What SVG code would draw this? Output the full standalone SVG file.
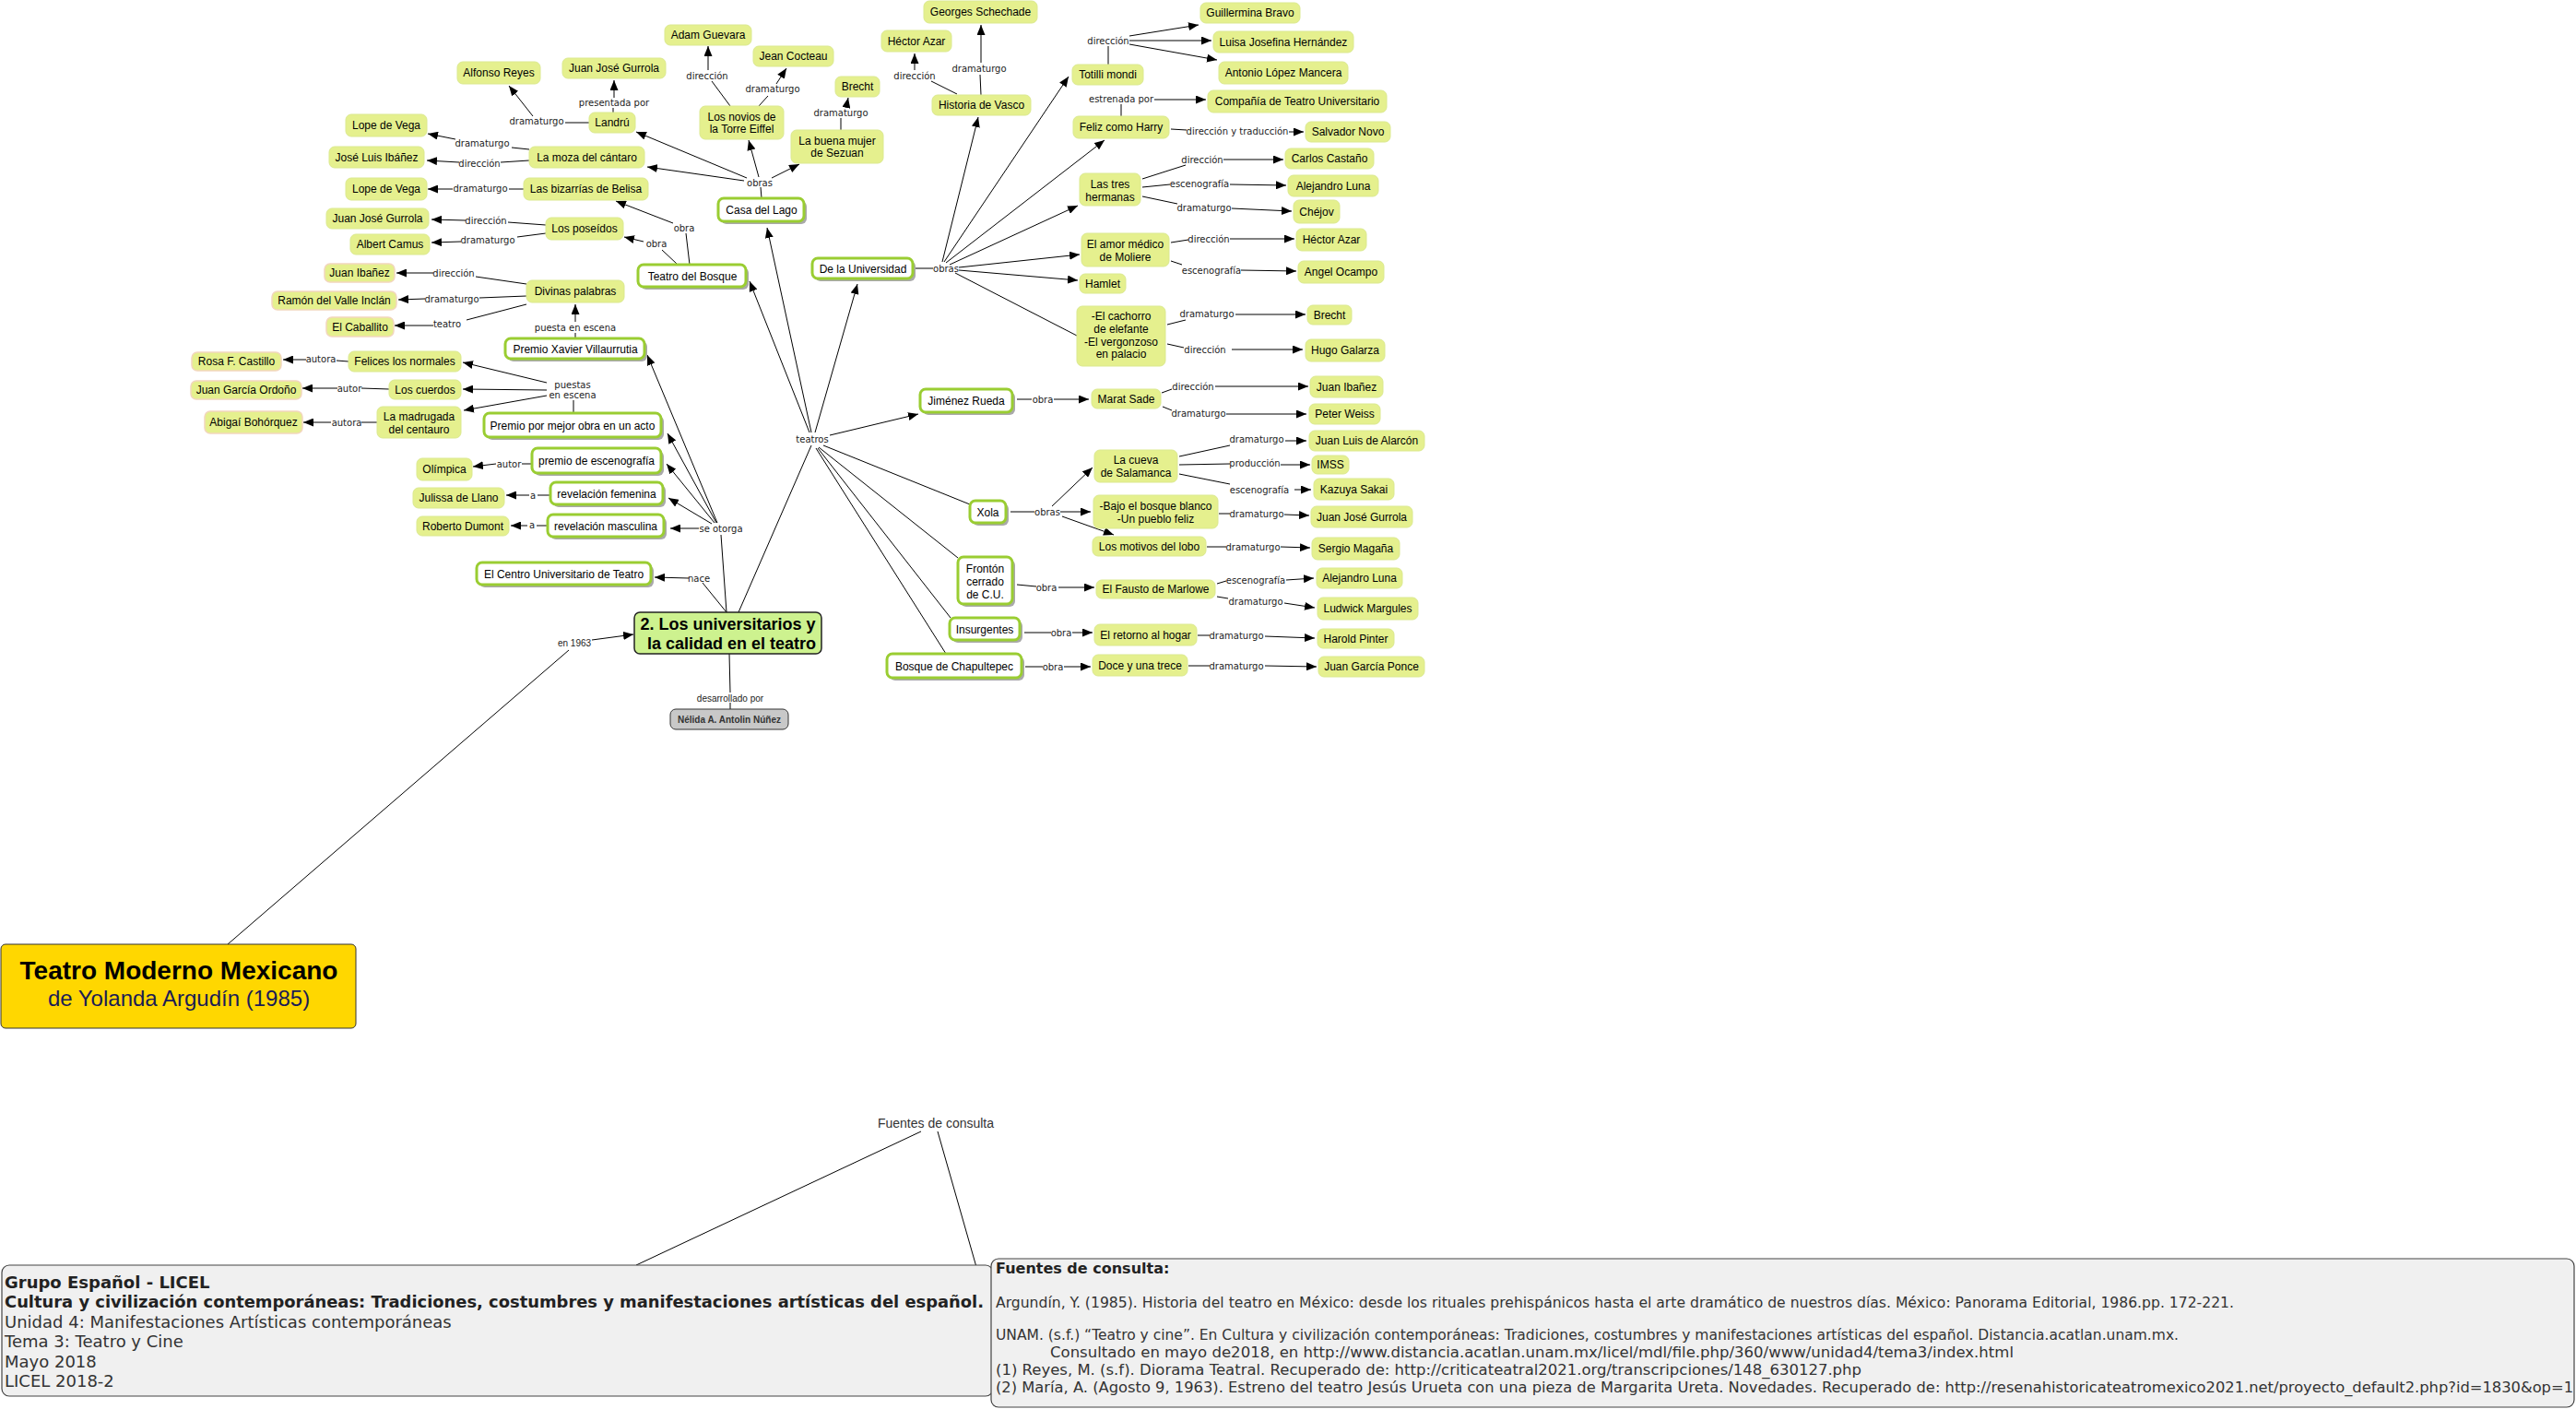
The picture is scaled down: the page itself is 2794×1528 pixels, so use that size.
<svg xmlns="http://www.w3.org/2000/svg" width="2794" height="1528" viewBox="0 0 2794 1528">
<defs>
<marker id="ah" markerWidth="11" markerHeight="9" refX="11" refY="4.5" orient="auto" markerUnits="userSpaceOnUse"><path d="M0,0L11,4.5L0,9z" fill="#000"/></marker>
<style>
.y rect{fill:#e5f08e;stroke:#dbe98f;stroke-width:1}
.yp rect{fill:#e5f08e;stroke:#f2d6bd;stroke-width:1.5}
.bx .s{fill:#a9a9a9}
.bx .f{fill:#fff;stroke:#9acd32;stroke-width:3}
text{font-family:"Liberation Sans",Arial,sans-serif}
.t{font-size:12px;fill:#000;text-anchor:middle}
.l{font-family:"DejaVu Sans",Verdana,sans-serif;font-size:10px;fill:#222;text-anchor:middle}
.la{font-size:10px;fill:#222;text-anchor:middle}
#connectors line{stroke:#000;stroke-width:1}
.ar{marker-end:url(#ah)}
.bt{font-family:"DejaVu Sans",Verdana,sans-serif;font-size:18px;fill:#333}
.bf{font-family:"DejaVu Sans",Verdana,sans-serif;font-size:16px;fill:#333}
.bold{font-weight:bold;fill:#222}
</style>
</defs>
<rect width="2794" height="1528" fill="#fff"/>
<g id="connectors">
<line x1="639" y1="133" x2="613" y2="133"/><line class="ar" x1="578" y1="126" x2="552" y2="93"/>
<line x1="665" y1="122" x2="665" y2="117"/><line class="ar" x1="666" y1="106" x2="666" y2="87"/>
<line x1="574" y1="162" x2="555" y2="160"/><line class="ar" x1="494" y1="151" x2="464" y2="145"/>
<line x1="574" y1="174" x2="543" y2="176"/><line class="ar" x1="498" y1="176" x2="463" y2="174"/>
<line x1="568" y1="205" x2="552" y2="205"/><line class="ar" x1="491" y1="205" x2="464" y2="205"/>
<line x1="592" y1="244" x2="551" y2="241"/><line class="ar" x1="505" y1="239" x2="468" y2="238"/>
<line x1="592" y1="253" x2="561" y2="257"/><line class="ar" x1="500" y1="262" x2="468" y2="263"/>
<line x1="571" y1="308" x2="516" y2="300"/><line class="ar" x1="470" y1="296" x2="430" y2="296"/>
<line x1="571" y1="321" x2="520" y2="323"/><line class="ar" x1="461" y1="324" x2="432" y2="325"/>
<line x1="571" y1="330" x2="506" y2="347"/><line class="ar" x1="470" y1="353" x2="428" y2="353"/>
<line x1="624" y1="367" x2="624" y2="361"/><line class="ar" x1="624" y1="349" x2="624" y2="330"/>
<line x1="378" y1="392" x2="365" y2="391"/><line class="ar" x1="332" y1="390" x2="307" y2="390"/>
<line x1="422" y1="422" x2="392" y2="421"/><line class="ar" x1="366" y1="421" x2="328" y2="421"/>
<line x1="409" y1="458" x2="392" y2="458"/><line class="ar" x1="359" y1="458" x2="329" y2="458"/>
<line x1="622" y1="448" x2="622" y2="434"/>
<line class="ar" x1="593" y1="415" x2="502" y2="393"/><line class="ar" x1="593" y1="423" x2="502" y2="422"/><line class="ar" x1="593" y1="429" x2="503" y2="445"/>
<line x1="577" y1="503" x2="566" y2="503"/><line class="ar" x1="538" y1="503" x2="513" y2="506"/>
<line x1="597" y1="537" x2="583" y2="537"/><line class="ar" x1="574" y1="537" x2="549" y2="537"/>
<line x1="594" y1="570" x2="582" y2="570"/><line class="ar" x1="572" y1="570" x2="554" y2="570"/>
<line x1="788" y1="664" x2="782" y2="580"/>
<line class="ar" x1="778" y1="567" x2="702" y2="385"/><line class="ar" x1="777" y1="567" x2="724" y2="470"/><line class="ar" x1="775" y1="567" x2="723" y2="503"/><line class="ar" x1="772" y1="568" x2="725" y2="540"/><line class="ar" x1="758" y1="573" x2="727" y2="573"/>
<line x1="788" y1="664" x2="762" y2="632"/><line class="ar" x1="747" y1="627" x2="710" y2="626"/>
<line x1="801" y1="664" x2="880" y2="483"/>
<line class="ar" x1="878" y1="469" x2="813" y2="305"/><line class="ar" x1="880" y1="469" x2="832" y2="247"/><line class="ar" x1="884" y1="469" x2="930" y2="308"/><line class="ar" x1="900" y1="472" x2="996" y2="449"/>
<line x1="893" y1="483" x2="1052" y2="547"/><line x1="888" y1="485" x2="1039" y2="605"/><line x1="887" y1="486" x2="1031" y2="670"/><line x1="885" y1="486" x2="1026" y2="709"/>
<line x1="247" y1="1024" x2="617" y2="705"/><line class="ar" x1="642" y1="694" x2="687" y2="688"/>
<line x1="791" y1="709" x2="792" y2="751"/><line x1="792" y1="762" x2="792" y2="769"/>
<line x1="826" y1="215" x2="825" y2="203"/>
<line class="ar" x1="810" y1="193" x2="690" y2="143"/><line class="ar" x1="807" y1="196" x2="702" y2="181"/><line class="ar" x1="823" y1="192" x2="812" y2="152"/><line class="ar" x1="837" y1="193" x2="867" y2="178"/>
<line x1="792" y1="115" x2="772" y2="88"/><line class="ar" x1="768" y1="76" x2="768" y2="50"/>
<line x1="823" y1="115" x2="833" y2="104"/><line class="ar" x1="842" y1="91" x2="853" y2="74"/>
<line x1="912" y1="141" x2="912" y2="128"/><line class="ar" x1="918" y1="116" x2="920" y2="106"/>
<line x1="748" y1="287" x2="744" y2="253"/><line class="ar" x1="730" y1="242" x2="668" y2="218"/>
<line x1="735" y1="287" x2="718" y2="271"/><line class="ar" x1="698" y1="262" x2="677" y2="257"/>
<line x1="993" y1="291" x2="1012" y2="291"/>
<line class="ar" x1="1022" y1="284" x2="1061" y2="127"/><line class="ar" x1="1024" y1="284" x2="1159" y2="83"/><line class="ar" x1="1026" y1="285" x2="1198" y2="152"/><line class="ar" x1="1030" y1="287" x2="1169" y2="223"/><line class="ar" x1="1040" y1="290" x2="1171" y2="276"/><line class="ar" x1="1040" y1="293" x2="1169" y2="304"/><line x1="1036" y1="296" x2="1168" y2="364"/>
<line x1="1038" y1="102" x2="1010" y2="88"/><line class="ar" x1="992" y1="76" x2="992" y2="58"/>
<line x1="1064" y1="103" x2="1063" y2="81"/><line class="ar" x1="1064" y1="68" x2="1064" y2="27"/>
<line x1="1202" y1="70" x2="1202" y2="50"/>
<line class="ar" x1="1225" y1="39" x2="1300" y2="27"/><line class="ar" x1="1225" y1="44" x2="1314" y2="44"/><line class="ar" x1="1225" y1="48" x2="1320" y2="65"/>
<line x1="1216" y1="126" x2="1216" y2="113"/><line class="ar" x1="1252" y1="108" x2="1308" y2="108"/>
<line x1="1270" y1="140" x2="1287" y2="141"/><line class="ar" x1="1398" y1="143" x2="1414" y2="143"/>
<line x1="1239" y1="194" x2="1286" y2="179"/><line class="ar" x1="1327" y1="173" x2="1392" y2="173"/>
<line x1="1239" y1="203" x2="1269" y2="200"/><line class="ar" x1="1334" y1="200" x2="1395" y2="201"/>
<line x1="1239" y1="213" x2="1277" y2="221"/><line class="ar" x1="1336" y1="226" x2="1401" y2="229"/>
<line x1="1270" y1="263" x2="1289" y2="260"/><line class="ar" x1="1334" y1="259" x2="1404" y2="259"/>
<line x1="1270" y1="283" x2="1282" y2="287"/><line class="ar" x1="1346" y1="293" x2="1406" y2="294"/>
<line x1="1266" y1="352" x2="1286" y2="347"/><line class="ar" x1="1340" y1="341" x2="1416" y2="341"/>
<line x1="1266" y1="373" x2="1284" y2="377"/><line class="ar" x1="1336" y1="379" x2="1413" y2="379"/>
<line x1="1103" y1="433" x2="1119" y2="433"/><line class="ar" x1="1143" y1="433" x2="1181" y2="433"/>
<line x1="1260" y1="426" x2="1271" y2="422"/><line class="ar" x1="1318" y1="419" x2="1419" y2="419"/>
<line x1="1261" y1="441" x2="1271" y2="445"/><line class="ar" x1="1330" y1="449" x2="1417" y2="449"/>
<line x1="1096" y1="555" x2="1122" y2="555"/>
<line class="ar" x1="1141" y1="549" x2="1185" y2="507"/><line class="ar" x1="1150" y1="555" x2="1183" y2="555"/><line class="ar" x1="1152" y1="560" x2="1208" y2="580"/>
<line x1="1279" y1="495" x2="1334" y2="483"/><line class="ar" x1="1394" y1="478" x2="1417" y2="478"/>
<line x1="1279" y1="504" x2="1334" y2="503"/><line class="ar" x1="1389" y1="504" x2="1421" y2="504"/>
<line x1="1279" y1="514" x2="1334" y2="525"/><line class="ar" x1="1404" y1="531" x2="1422" y2="531"/>
<line x1="1322" y1="557" x2="1334" y2="557"/><line class="ar" x1="1393" y1="558" x2="1420" y2="559"/>
<line x1="1309" y1="593" x2="1330" y2="593"/><line class="ar" x1="1389" y1="593" x2="1421" y2="594"/>
<line x1="1103" y1="634" x2="1124" y2="636"/><line class="ar" x1="1148" y1="637" x2="1187" y2="637"/>
<line x1="1320" y1="633" x2="1330" y2="630"/><line class="ar" x1="1395" y1="629" x2="1425" y2="627"/>
<line x1="1320" y1="647" x2="1332" y2="649"/><line class="ar" x1="1393" y1="654" x2="1426" y2="659"/>
<line x1="1111" y1="686" x2="1140" y2="686"/><line class="ar" x1="1163" y1="686" x2="1185" y2="686"/>
<line x1="1299" y1="689" x2="1312" y2="689"/><line class="ar" x1="1372" y1="690" x2="1426" y2="692"/>
<line x1="1112" y1="723" x2="1131" y2="723"/><line class="ar" x1="1154" y1="723" x2="1183" y2="723"/>
<line x1="1289" y1="722" x2="1312" y2="722"/><line class="ar" x1="1372" y1="722" x2="1428" y2="723"/>
<line x1="999" y1="1227" x2="690" y2="1372"/><line x1="1017" y1="1227" x2="1075" y2="1430"/>
<text class="l" x="582" y="134.5">dramaturgo</text>
<text class="l" x="666" y="114.5">presentada por</text>
<text class="l" x="523" y="158.5">dramaturgo</text>
<text class="l" x="520" y="180.5">dirección</text>
<text class="l" x="521" y="207.5">dramaturgo</text>
<text class="l" x="527" y="242.5">dirección</text>
<text class="l" x="529" y="263.5">dramaturgo</text>
<text class="l" x="492" y="299.5">dirección</text>
<text class="l" x="490" y="327.5">dramaturgo</text>
<text class="l" x="485" y="354.5">teatro</text>
<text class="l" x="624" y="358.5">puesta en escena</text>
<text class="l" x="348" y="392.5">autora</text>
<text class="l" x="379" y="424.5">autor</text>
<text class="l" x="376" y="461.5">autora</text>
<text class="l" x="621" y="420.5">puestas</text>
<text class="l" x="621" y="431.5">en escena</text>
<text class="l" x="552" y="506.5">autor</text>
<text class="l" x="578" y="540.5">a</text>
<text class="l" x="577" y="572.5">a</text>
<text class="l" x="782" y="576.5">se otorga</text>
<text class="l" x="758" y="630.5">nace</text>
<text class="l" x="881" y="479.5">teatros</text>
<text class="la" x="623" y="700.5">en 1963</text>
<text class="la" x="792" y="760.5">desarrollado por</text>
<text class="l" x="824" y="201.5">obras</text>
<text class="l" x="767" y="85.5">dirección</text>
<text class="l" x="838" y="99.5">dramaturgo</text>
<text class="l" x="912" y="125.5">dramaturgo</text>
<text class="l" x="742" y="250.5">obra</text>
<text class="l" x="712" y="267.5">obra</text>
<text class="l" x="1026" y="294.5">obras</text>
<text class="l" x="992" y="85.5">dirección</text>
<text class="l" x="1062" y="77.5">dramaturgo</text>
<text class="l" x="1202" y="47.5">dirección</text>
<text class="l" x="1216" y="110.5">estrenada por</text>
<text class="l" x="1342" y="145.5">dirección y traducción</text>
<text class="l" x="1304" y="176.5">dirección</text>
<text class="l" x="1301" y="202.5">escenografía</text>
<text class="l" x="1306" y="228.5">dramaturgo</text>
<text class="l" x="1311" y="262.5">dirección</text>
<text class="l" x="1314" y="296.5">escenografía</text>
<text class="l" x="1309" y="343.5">dramaturgo</text>
<text class="l" x="1307" y="382.5">dirección</text>
<text class="l" x="1131" y="436.5">obra</text>
<text class="l" x="1294" y="422.5">dirección</text>
<text class="l" x="1300" y="451.5">dramaturgo</text>
<text class="l" x="1136" y="558.5">obras</text>
<text class="l" x="1363" y="479.5">dramaturgo</text>
<text class="l" x="1361" y="505.5">producción</text>
<text class="l" x="1366" y="534.5">escenografía</text>
<text class="l" x="1363" y="560.5">dramaturgo</text>
<text class="l" x="1359" y="596.5">dramaturgo</text>
<text class="l" x="1135" y="640.5">obra</text>
<text class="l" x="1362" y="632.5">escenografía</text>
<text class="l" x="1362" y="655.5">dramaturgo</text>
<text class="l" x="1151" y="689.5">obra</text>
<text class="l" x="1341" y="692.5">dramaturgo</text>
<text class="l" x="1142" y="726.5">obra</text>
<text class="l" x="1341" y="725.5">dramaturgo</text>
<text x="1015" y="1223" font-size="14" fill="#333" text-anchor="middle">Fuentes de consulta</text>
</g>
<g id="n1" class="y"><rect x="496" y="67" width="90" height="24" rx="6"/><text class="t" x="541" y="83">Alfonso Reyes</text></g>
<g id="n2" class="y"><rect x="610" y="63" width="112" height="22" rx="6"/><text class="t" x="666" y="78">Juan José Gurrola</text></g>
<g id="n3" class="y"><rect x="639" y="122" width="50" height="22" rx="6"/><text class="t" x="664" y="137">Landrú</text></g>
<g id="n4" class="y"><rect x="375" y="124" width="88" height="24" rx="6"/><text class="t" x="419" y="140">Lope de Vega</text></g>
<g id="n5" class="y"><rect x="574" y="159" width="125" height="23" rx="6"/><text class="t" x="636.5" y="174.5">La moza del cántaro</text></g>
<g id="n6" class="y"><rect x="357" y="159" width="103" height="23" rx="6"/><text class="t" x="408.5" y="174.5">José Luis Ibáñez</text></g>
<g id="n7" class="y"><rect x="375" y="193" width="88" height="24" rx="6"/><text class="t" x="419" y="209">Lope de Vega</text></g>
<g id="n8" class="y"><rect x="568" y="193" width="135" height="24" rx="6"/><text class="t" x="635.5" y="209">Las bizarrías de Belisa</text></g>
<g id="n9" class="y"><rect x="354" y="226" width="111" height="22" rx="6"/><text class="t" x="409.5" y="241">Juan José Gurrola</text></g>
<g id="n10" class="y"><rect x="592" y="236" width="84" height="24" rx="6"/><text class="t" x="634" y="252">Los poseídos</text></g>
<g id="n11" class="y"><rect x="380" y="254" width="86" height="22" rx="6"/><text class="t" x="423" y="269">Albert Camus</text></g>
<g id="n12" class="yp"><rect x="352" y="286" width="76" height="20" rx="6"/><text class="t" x="390" y="300">Juan Ibañez</text></g>
<g id="n13" class="y"><rect x="571" y="304" width="106" height="24" rx="6"/><text class="t" x="624" y="320">Divinas palabras</text></g>
<g id="n14" class="yp"><rect x="295" y="316" width="135" height="20" rx="6"/><text class="t" x="362.5" y="330">Ramón del Valle Inclán</text></g>
<g id="n15" class="yp"><rect x="354" y="344" width="73" height="21" rx="6"/><text class="t" x="390.5" y="358.5">El Caballito</text></g>
<g id="n16" class="yp"><rect x="208" y="382" width="97" height="20" rx="6"/><text class="t" x="256.5" y="396">Rosa F. Castillo</text></g>
<g id="n17" class="y"><rect x="378" y="381" width="122" height="22" rx="6"/><text class="t" x="439" y="396">Felices los normales</text></g>
<g id="n18" class="yp"><rect x="207" y="413" width="120" height="20" rx="6"/><text class="t" x="267" y="427">Juan García Ordoño</text></g>
<g id="n19" class="y"><rect x="422" y="412" width="78" height="21" rx="6"/><text class="t" x="461" y="426.5">Los cuerdos</text></g>
<g id="n20" class="yp"><rect x="222" y="446" width="106" height="24" rx="6"/><text class="t" x="275" y="462">Abigaí Bohórquez</text></g>
<g id="n21" class="y"><rect x="409" y="441" width="91" height="34" rx="6"/><text class="t" x="454.5" y="455.5">La madrugada</text><text class="t" x="454.5" y="469.5">del centauro</text></g>
<g id="n22" class="y"><rect x="452" y="497" width="60" height="24" rx="6"/><text class="t" x="482" y="513">Olímpica</text></g>
<g id="n23" class="y"><rect x="448" y="529" width="99" height="22" rx="6"/><text class="t" x="497.5" y="544">Julissa de Llano</text></g>
<g id="n24" class="y"><rect x="452" y="560" width="100" height="21" rx="6"/><text class="t" x="502" y="574.5">Roberto Dumont</text></g>
<g id="n25" class="y"><rect x="721" y="27" width="94" height="22" rx="6"/><text class="t" x="768" y="42">Adam Guevara</text></g>
<g id="n26" class="y"><rect x="817" y="50" width="87" height="22" rx="6"/><text class="t" x="860.5" y="65">Jean Cocteau</text></g>
<g id="n27" class="y"><rect x="759" y="115" width="91" height="36" rx="6"/><text class="t" x="804.5" y="131">Los novios de</text><text class="t" x="804.5" y="144">la Torre Eiffel</text></g>
<g id="n28" class="y"><rect x="906" y="83" width="48" height="22" rx="6"/><text class="t" x="930" y="98">Brecht</text></g>
<g id="n29" class="y"><rect x="858" y="141" width="100" height="36" rx="6"/><text class="t" x="908" y="157">La buena mujer</text><text class="t" x="908" y="170">de Sezuan</text></g>
<g id="n30" class="y"><rect x="956" y="33" width="76" height="23" rx="6"/><text class="t" x="994" y="48.5">Héctor Azar</text></g>
<g id="n31" class="y"><rect x="1002" y="1" width="123" height="24" rx="6"/><text class="t" x="1063.5" y="17">Georges Schechade</text></g>
<g id="n32" class="y"><rect x="1011" y="103" width="107" height="22" rx="6"/><text class="t" x="1064.5" y="118">Historia de Vasco</text></g>
<g id="n33" class="y"><rect x="1302" y="3" width="108" height="22" rx="6"/><text class="t" x="1356" y="18">Guillermina Bravo</text></g>
<g id="n34" class="y"><rect x="1316" y="34" width="152" height="23" rx="6"/><text class="t" x="1392" y="49.5">Luisa Josefina Hernández</text></g>
<g id="n35" class="y"><rect x="1322" y="67" width="140" height="24" rx="6"/><text class="t" x="1392" y="83">Antonio López Mancera</text></g>
<g id="n36" class="y"><rect x="1163" y="70" width="77" height="22" rx="6"/><text class="t" x="1201.5" y="85">Totilli mondi</text></g>
<g id="n37" class="y"><rect x="1310" y="98" width="194" height="24" rx="6"/><text class="t" x="1407" y="114">Compañía de Teatro Universitario</text></g>
<g id="n38" class="y"><rect x="1164" y="126" width="104" height="24" rx="6"/><text class="t" x="1216" y="142">Feliz como Harry</text></g>
<g id="n39" class="y"><rect x="1416" y="132" width="92" height="22" rx="6"/><text class="t" x="1462" y="147">Salvador Novo</text></g>
<g id="n40" class="y"><rect x="1394" y="161" width="96" height="22" rx="6"/><text class="t" x="1442" y="176">Carlos Castaño</text></g>
<g id="n41" class="y"><rect x="1171" y="188" width="66" height="35" rx="6"/><text class="t" x="1204" y="203.5">Las tres</text><text class="t" x="1204" y="217.5">hermanas</text></g>
<g id="n42" class="y"><rect x="1397" y="190" width="98" height="23" rx="6"/><text class="t" x="1446" y="205.5">Alejandro Luna</text></g>
<g id="n43" class="y"><rect x="1403" y="217" width="50" height="25" rx="6"/><text class="t" x="1428" y="233.5">Chéjov</text></g>
<g id="n44" class="y"><rect x="1173" y="253" width="95" height="36" rx="6"/><text class="t" x="1220.5" y="268.5">El amor médico</text><text class="t" x="1220.5" y="282.5">de Moliere</text></g>
<g id="n45" class="y"><rect x="1406" y="248" width="76" height="24" rx="6"/><text class="t" x="1444" y="264">Héctor Azar</text></g>
<g id="n46" class="y"><rect x="1408" y="283" width="93" height="24" rx="6"/><text class="t" x="1454.5" y="299">Angel Ocampo</text></g>
<g id="n47" class="y"><rect x="1171" y="297" width="50" height="21" rx="6"/><text class="t" x="1196" y="311.5">Hamlet</text></g>
<g id="n48" class="y"><rect x="1168" y="332" width="96" height="65" rx="6"/><text class="t" x="1216" y="347">-El cachorro</text><text class="t" x="1216" y="361">de elefante</text><text class="t" x="1216" y="375">-El vergonzoso</text><text class="t" x="1216" y="388">en palacio</text></g>
<g id="n49" class="y"><rect x="1418" y="331" width="48" height="21" rx="6"/><text class="t" x="1442" y="345.5">Brecht</text></g>
<g id="n50" class="y"><rect x="1416" y="368" width="86" height="24" rx="6"/><text class="t" x="1459" y="384">Hugo Galarza</text></g>
<g id="n51" class="y"><rect x="1184" y="422" width="75" height="21" rx="6"/><text class="t" x="1221.5" y="436.5">Marat Sade</text></g>
<g id="n52" class="y"><rect x="1421" y="408" width="79" height="23" rx="6"/><text class="t" x="1460.5" y="423.5">Juan Ibañez</text></g>
<g id="n53" class="y"><rect x="1420" y="438" width="77" height="22" rx="6"/><text class="t" x="1458.5" y="453">Peter Weiss</text></g>
<g id="n54" class="y"><rect x="1187" y="488" width="90" height="35" rx="6"/><text class="t" x="1232" y="503">La cueva</text><text class="t" x="1232" y="516.5">de Salamanca</text></g>
<g id="n55" class="y"><rect x="1420" y="467" width="125" height="22" rx="6"/><text class="t" x="1482.5" y="482">Juan Luis de Alarcón</text></g>
<g id="n56" class="y"><rect x="1423" y="494" width="40" height="20" rx="6"/><text class="t" x="1443" y="508">IMSS</text></g>
<g id="n57" class="y"><rect x="1425" y="519" width="87" height="23" rx="6"/><text class="t" x="1468.5" y="534.5">Kazuya Sakai</text></g>
<g id="n58" class="y"><rect x="1186" y="537" width="135" height="36" rx="6"/><text class="t" x="1253.5" y="553">-Bajo el bosque blanco</text><text class="t" x="1253.5" y="567">-Un pueblo feliz</text></g>
<g id="n59" class="y"><rect x="1422" y="549" width="110" height="23" rx="6"/><text class="t" x="1477" y="564.5">Juan José Gurrola</text></g>
<g id="n60" class="y"><rect x="1185" y="582" width="123" height="21" rx="6"/><text class="t" x="1246.5" y="596.5">Los motivos del lobo</text></g>
<g id="n61" class="y"><rect x="1423" y="583" width="95" height="24" rx="6"/><text class="t" x="1470.5" y="599">Sergio Magaña</text></g>
<g id="n62" class="y"><rect x="1189" y="629" width="129" height="20" rx="6"/><text class="t" x="1253.5" y="643">El Fausto de Marlowe</text></g>
<g id="n63" class="y"><rect x="1428" y="616" width="93" height="22" rx="6"/><text class="t" x="1474.5" y="631">Alejandro Luna</text></g>
<g id="n64" class="y"><rect x="1429" y="648" width="109" height="24" rx="6"/><text class="t" x="1483.5" y="664">Ludwick Margules</text></g>
<g id="n65" class="y"><rect x="1187" y="677" width="111" height="23" rx="6"/><text class="t" x="1242.5" y="692.5">El retorno al hogar</text></g>
<g id="n66" class="y"><rect x="1429" y="682" width="83" height="21" rx="6"/><text class="t" x="1470.5" y="696.5">Harold Pinter</text></g>
<g id="n67" class="y"><rect x="1185" y="710" width="103" height="23" rx="6"/><text class="t" x="1236.5" y="725.5">Doce y una trece</text></g>
<g id="n68" class="y"><rect x="1430" y="712" width="115" height="22" rx="6"/><text class="t" x="1487.5" y="727">Juan García Ponce</text></g>
<g id="b1" class="bx"><rect class="s" x="695" y="290" width="117" height="24" rx="6"/><rect class="f" x="692" y="287" width="117" height="24" rx="6"/><text class="t" x="751" y="304">Teatro del Bosque</text></g>
<g id="b2" class="bx"><rect class="s" x="782" y="218" width="93" height="25" rx="6"/><rect class="f" x="779" y="215" width="93" height="25" rx="6"/><text class="t" x="826" y="232">Casa del Lago</text></g>
<g id="b3" class="bx"><rect class="s" x="884" y="283" width="109" height="22" rx="6"/><rect class="f" x="881" y="280" width="109" height="22" rx="6"/><text class="t" x="936" y="295.5">De la Universidad</text></g>
<g id="b4" class="bx"><rect class="s" x="551" y="370" width="151" height="22" rx="6"/><rect class="f" x="548" y="367" width="151" height="22" rx="6"/><text class="t" x="624" y="382.5">Premio Xavier Villaurrutia</text></g>
<g id="b5" class="bx"><rect class="s" x="528" y="451" width="192" height="26" rx="6"/><rect class="f" x="525" y="448" width="192" height="26" rx="6"/><text class="t" x="621" y="465.5">Premio por mejor obra en un acto</text></g>
<g id="b6" class="bx"><rect class="s" x="580" y="489" width="140" height="27" rx="6"/><rect class="f" x="577" y="486" width="140" height="27" rx="6"/><text class="t" x="647" y="503.5">premio de escenografía</text></g>
<g id="b7" class="bx"><rect class="s" x="600" y="526" width="122" height="24" rx="6"/><rect class="f" x="597" y="523" width="122" height="24" rx="6"/><text class="t" x="658" y="539.5">revelación femenina</text></g>
<g id="b8" class="bx"><rect class="s" x="597" y="561" width="126" height="24" rx="6"/><rect class="f" x="594" y="558" width="126" height="24" rx="6"/><text class="t" x="657" y="574.5">revelación masculina</text></g>
<g id="b9" class="bx"><rect class="s" x="520" y="613" width="189" height="24" rx="6"/><rect class="f" x="517" y="610" width="189" height="24" rx="6"/><text class="t" x="611.5" y="626.5">El Centro Universitario de Teatro</text></g>
<g id="b10" class="bx"><rect class="s" x="1001" y="425" width="100" height="25" rx="6"/><rect class="f" x="998" y="422" width="100" height="25" rx="6"/><text class="t" x="1048" y="439">Jiménez Rueda</text></g>
<g id="b11" class="bx"><rect class="s" x="1055" y="546" width="39" height="24" rx="6"/><rect class="f" x="1052" y="543" width="39" height="24" rx="6"/><text class="t" x="1071.5" y="559.5">Xola</text></g>
<g id="b12" class="bx"><rect class="s" x="1042" y="607" width="59" height="51" rx="6"/><rect class="f" x="1039" y="604" width="59" height="51" rx="6"/><text class="t" x="1068.5" y="621">Frontón</text><text class="t" x="1068.5" y="635">cerrado</text><text class="t" x="1068.5" y="649">de C.U.</text></g>
<g id="b13" class="bx"><rect class="s" x="1033" y="673" width="76" height="24" rx="6"/><rect class="f" x="1030" y="670" width="76" height="24" rx="6"/><text class="t" x="1068" y="686.5">Insurgentes</text></g>
<g id="b14" class="bx"><rect class="s" x="965" y="712" width="146" height="26" rx="6"/><rect class="f" x="962" y="709" width="146" height="26" rx="6"/><text class="t" x="1035" y="726.5">Bosque de Chapultepec</text></g>
<g id="main"><rect x="688" y="664" width="203" height="45" rx="6" fill="#cdf28f" stroke="#222" stroke-width="1.5"/><text x="789.5" y="683" font-size="18" font-weight="bold" text-anchor="middle" fill="#000">2. Los universitarios y</text><text x="793.5" y="704" font-size="18" font-weight="bold" text-anchor="middle" fill="#000">la calidad en el teatro</text></g>
<g id="author"><rect x="727" y="769" width="128" height="22" rx="6" fill="#c8c8c8" stroke="#333" stroke-width="1"/><text x="791" y="784" font-size="10" font-weight="bold" text-anchor="middle" fill="#333">Nélida A. Antolin Núñez</text></g>
<g id="title"><rect x="1" y="1024" width="385" height="91" rx="5" fill="#ffd700" stroke="#333" stroke-width="1"/><text x="194" y="1062" font-size="28" font-weight="bold" text-anchor="middle" fill="#000">Teatro Moderno Mexicano</text><text x="194" y="1091" font-size="24" text-anchor="middle" fill="#1b1b55">de Yolanda Argudín (1985)</text></g>
<g id="grupo"><rect x="2" y="1372" width="1075" height="142" rx="8" fill="#f0f0f0" stroke="#444" stroke-width="1.2"/>
<text class="bt bold" x="5" y="1397">Grupo Español - LICEL</text>
<text class="bt bold" x="5" y="1418" textLength="1062" lengthAdjust="spacingAndGlyphs">Cultura y civilización contemporáneas: Tradiciones, costumbres y manifestaciones artísticas del español.</text>
<text class="bt" x="5" y="1440">Unidad 4: Manifestaciones Artísticas contemporáneas</text>
<text class="bt" x="5" y="1461">Tema 3: Teatro y Cine</text>
<text class="bt" x="5" y="1483">Mayo 2018</text>
<text class="bt" x="5" y="1504">LICEL 2018-2</text></g>
<g id="fuentes"><rect x="1075" y="1365" width="1717" height="161" rx="8" fill="#f0f0f0" stroke="#444" stroke-width="1.2"/>
<text class="bf bold" x="1080" y="1381">Fuentes de consulta:</text>
<text class="bf" x="1080" y="1418" textLength="1343" lengthAdjust="spacingAndGlyphs">Argundín, Y. (1985). Historia del teatro en México: desde los rituales prehispánicos hasta el arte dramático de nuestros días. México: Panorama Editorial, 1986.pp. 172-221.</text>
<text class="bf" x="1080" y="1453" textLength="1283" lengthAdjust="spacingAndGlyphs">UNAM. (s.f.) “Teatro y cine”. En Cultura y civilización contemporáneas: Tradiciones, costumbres y manifestaciones artísticas del español. Distancia.acatlan.unam.mx.</text>
<text class="bf" x="1139" y="1472" textLength="1045" lengthAdjust="spacingAndGlyphs">Consultado en mayo de2018, en http://www.distancia.acatlan.unam.mx/licel/mdl/file.php/360/www/unidad4/tema3/index.html</text>
<text class="bf" x="1080" y="1491" textLength="939" lengthAdjust="spacingAndGlyphs">(1) Reyes, M. (s.f). Diorama Teatral. Recuperado de: http://criticateatral2021.org/transcripciones/148_630127.php</text>
<text class="bf" x="1080" y="1510" textLength="1711" lengthAdjust="spacingAndGlyphs">(2) María, A. (Agosto 9, 1963). Estreno del teatro Jesús Urueta con una pieza de Margarita Ureta. Novedades. Recuperado de: http://resenahistoricateatromexico2021.net/proyecto_default2.php?id=1830&amp;op=1</text></g>
</svg>
